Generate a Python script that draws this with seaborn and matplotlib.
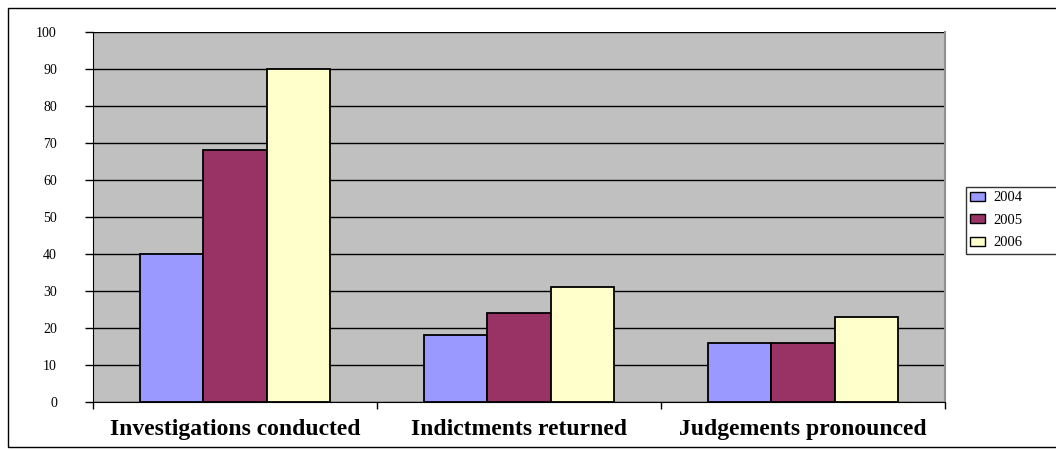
import matplotlib
matplotlib.use("Agg")
import matplotlib.pyplot as plt
import seaborn as sns
import pandas as pd
from matplotlib.patches import Rectangle
from matplotlib.ticker import FixedLocator

categories = ["Investigations conducted", "Indictments returned", "Judgements pronounced"]
years = ["2004", "2005", "2006"]
values_2004 = [40, 18, 16]
values_2005 = [68, 24, 16]
values_2006 = [90, 31, 23]
colors = ["#9999FF", "#993366", "#FFFFCC"]
yticks = [0, 10, 20, 30, 40, 50, 60, 70, 80, 90, 100]

rows = []
for yr, vals in zip(years, [values_2004, values_2005, values_2006]):
    for c, v in zip(categories, vals):
        rows.append({"category": c, "year": yr, "value": v})
df = pd.DataFrame(rows)

sns.set_style("white")
plt.rcParams["font.family"] = ["Liberation Serif", "DejaVu Serif"]
plt.rcParams["text.color"] = "black"
plt.rcParams["xtick.color"] = "black"
plt.rcParams["ytick.color"] = "black"
plt.rcParams["xtick.labelcolor"] = "black"
plt.rcParams["ytick.labelcolor"] = "black"

fig = plt.figure(figsize=(10.56, 4.5), dpi=100)
ax = fig.add_axes([93/1056, 1-402/450, (945-93)/1056, (402-32)/450])

# outer border
fig.patches.append(Rectangle((8/1056, 3/450), 1.2, 439/450, transform=fig.transFigure,
                             fill=False, edgecolor="black", linewidth=1.0, zorder=0))

sns.barplot(data=df, x="category", y="value", hue="year", palette=colors,
            width=0.67, edgecolor="black", linewidth=1.3, ax=ax, legend=False,
            saturation=1)

ax.set_facecolor("#C0C0C0")
ax.set_ylim(0, 100)
ax.set_xlim(-0.5, 2.5)
ax.set_yticks(yticks)
ax.set_yticklabels([str(t) for t in yticks], fontsize=10, color="black")
ax.yaxis.grid(True, color="black", linewidth=1.0)
ax.set_axisbelow(True)
ax.set_xlabel("")
ax.set_ylabel("")
ax.set_xticks(range(len(categories)))
ax.set_xticklabels(categories, fontsize=17, fontweight="bold", color="black")
ax.xaxis.set_minor_locator(FixedLocator([-0.5, 0.5, 1.5, 2.5]))
ax.tick_params(axis="x", which="major", length=0, pad=12)
ax.tick_params(axis="x", which="minor", length=5, width=1, color="black", direction="out", bottom=True)
ax.tick_params(axis="y", length=6, width=1, color="black", direction="out", left=True, pad=20)
ax.spines["left"].set_color("black")
ax.spines["bottom"].set_color("black")
ax.spines["top"].set_visible(False)
ax.spines["right"].set_color("#909090")
ax.spines["right"].set_linewidth(1.5)

handles = [Rectangle((0, 0), 1, 1, facecolor=c, edgecolor="black", linewidth=1.0) for c in colors]
leg = fig.legend(handles, years, loc="upper left",
                 bbox_to_anchor=(966/1056, 1-252/450, 110/1056, 65/450), mode="expand",
                 frameon=True, fancybox=False, fontsize=10.5, handlelength=1.0, handleheight=0.6,
                 borderpad=0.3, labelspacing=0.65, handletextpad=0.6, borderaxespad=0)
leg.get_frame().set_edgecolor("black")
leg.get_frame().set_linewidth(1.0)
for t in leg.get_texts():
    t.set_color("black")

fig.savefig("out.png", dpi=100)
